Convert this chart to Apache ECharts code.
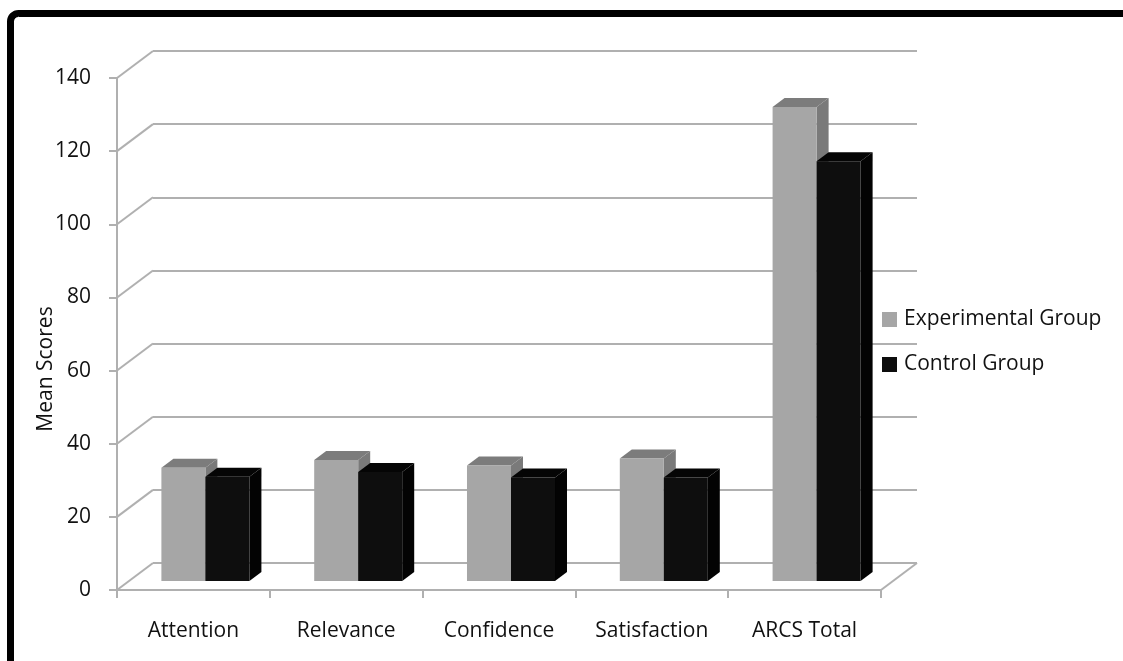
<!DOCTYPE html>
<html>
<head>
<meta charset="utf-8">
<script src="https://cdn.jsdelivr.net/npm/echarts@6/dist/echarts.min.js"></script>
<style>
  html, body { margin: 0; padding: 0; background: #fff; }
  #chart { width: 1123px; height: 661px; }
</style>
</head>
<body>
<div id="chart"></div>
<script>
var categories = ['Attention', 'Relevance', 'Confidence', 'Satisfaction', 'ARCS Total']
var experimental = [31.0, 33.1, 31.6, 33.5, 129.6]
var control = [28.5, 29.8, 28.3, 28.3, 114.8]
var yTicks = [0, 20, 40, 60, 80, 100, 120, 140]

// oblique depth of the 3d box (back wall offset)
var DEPTH_X = 36
var DEPTH_Y = -27
var BAR_FRAC = 0.288
var FONT = 'Open Sans'
var FONT_SIZE = 21

function toPairs (arr) {
  return arr.map(function (v, i) { return [i, v] })
}

// one 3d column: front, side and top faces
function barRender (left, cFront, cTop, cSide) {
  return function (params, api) {
    var idx = api.value(0)
    var top = api.coord([idx, api.value(1)])
    var base = api.coord([idx, 0])
    var bw = api.size([1, 0])[0] * BAR_FRAC
    var dx = DEPTH_X / 3
    var dy = DEPTH_Y / 3
    var x0 = top[0] + dx + (left ? -bw : 0)
    var x1 = x0 + bw
    var yt = top[1] + dy
    var yb = base[1] + dy
    return {
      type: 'group',
      children: [
        {
          type: 'polygon',
          shape: { points: [[x1, yt], [x1 + dx, yt + dy], [x1 + dx, yb + dy], [x1, yb]] },
          style: { fill: cSide }
        },
        {
          type: 'polygon',
          shape: { points: [[x0, yt], [x0 + dx, yt + dy], [x1 + dx, yt + dy], [x1, yt]] },
          style: { fill: cTop }
        },
        {
          type: 'rect',
          shape: { x: x0, y: yt, width: bw, height: yb - yt },
          style: { fill: cFront }
        }
      ]
    }
  }
}

// left wall diagonals + right floor edge
function wallRender (params, api) {
  var p = api.coord([0, api.value(1)])
  var cs = params.coordSys
  var lines = [{
    type: 'line',
    shape: { x1: cs.x, y1: p[1], x2: cs.x + DEPTH_X, y2: p[1] + DEPTH_Y },
    style: { stroke: '#b0b0b0', lineWidth: 2 }
  }]
  if (api.value(1) === 0) {
    lines.push({
      type: 'line',
      shape: { x1: cs.x + cs.width, y1: p[1], x2: cs.x + cs.width + DEPTH_X, y2: p[1] + DEPTH_Y },
      style: { stroke: '#b0b0b0', lineWidth: 2 }
    })
  }
  return { type: 'group', children: lines }
}

var chart = echarts.init(document.getElementById('chart'))
chart.setOption({
  animation: false,
  backgroundColor: '#fff',
  textStyle: { fontFamily: FONT },
  grid: [
    { left: 117, top: 78, width: 764, height: 512 },
    { left: 117 + DEPTH_X, top: 78 + DEPTH_Y, width: 764, height: 512 }
  ],
  xAxis: [
    {
      type: 'category',
      gridIndex: 0,
      data: categories,
      axisLine: { lineStyle: { color: '#b0b0b0', width: 2 } },
      axisTick: { show: true, length: 8, lineStyle: { color: '#b0b0b0', width: 2 } },
      axisLabel: { color: '#111', fontSize: FONT_SIZE, fontFamily: FONT, margin: 31 }
    },
    {
      type: 'category',
      gridIndex: 1,
      data: categories,
      show: false
    }
  ],
  yAxis: [
    {
      type: 'value',
      gridIndex: 0,
      min: 0,
      max: 140,
      interval: 20,
      splitLine: { show: false },
      axisLine: { show: true, lineStyle: { color: '#b0b0b0', width: 2 } },
      axisTick: { show: true, length: 8, lineStyle: { color: '#b0b0b0', width: 2 } },
      axisLabel: { color: '#111', fontSize: FONT_SIZE, fontFamily: FONT, margin: 26 }
    },
    {
      type: 'value',
      gridIndex: 1,
      min: 0,
      max: 140,
      interval: 20,
      axisLine: { show: false },
      axisTick: { show: false },
      axisLabel: { show: false },
      splitLine: { show: true, lineStyle: { color: '#b0b0b0', width: 2 } }
    }
  ],
  legend: {
    orient: 'vertical',
    left: 877,
    top: 304,
    itemWidth: 15,
    itemHeight: 15,
    itemGap: 24,
    icon: 'rect',
    data: ['Experimental Group', 'Control Group'],
    textStyle: { fontSize: FONT_SIZE, color: '#111', fontFamily: FONT, padding: [0, 0, 0, 2] }
  },
  graphic: [
    {
      type: 'text',
      x: 46,
      y: 369,
      rotation: Math.PI / 2,
      style: {
        text: 'Mean Scores',
        fill: '#111',
        font: FONT_SIZE + 'px "Open Sans"',
        align: 'center',
        verticalAlign: 'middle'
      }
    },
    {
      type: 'rect',
      shape: { x: 10.5, y: 13.5, width: 1300, height: 900, r: 8 },
      style: { fill: null, stroke: '#000', lineWidth: 7 },
      silent: true
    }
  ],
  series: [
    {
      type: 'custom',
      name: 'wall',
      xAxisIndex: 0,
      yAxisIndex: 0,
      silent: true,
      data: yTicks.map(function (v) { return [0, v] }),
      renderItem: wallRender
    },
    {
      type: 'custom',
      name: 'Experimental Group',
      xAxisIndex: 0,
      yAxisIndex: 0,
      itemStyle: { color: '#a6a6a6' },
      data: toPairs(experimental),
      renderItem: barRender(true, '#a6a6a6', '#7c7c7c', '#7a7a7a')
    },
    {
      type: 'custom',
      name: 'Control Group',
      xAxisIndex: 0,
      yAxisIndex: 0,
      itemStyle: { color: '#0d0d0d' },
      data: toPairs(control),
      renderItem: barRender(false, '#0e0e0e', '#050505', '#030303')
    }
  ]
})
</script>
</body>
</html>
